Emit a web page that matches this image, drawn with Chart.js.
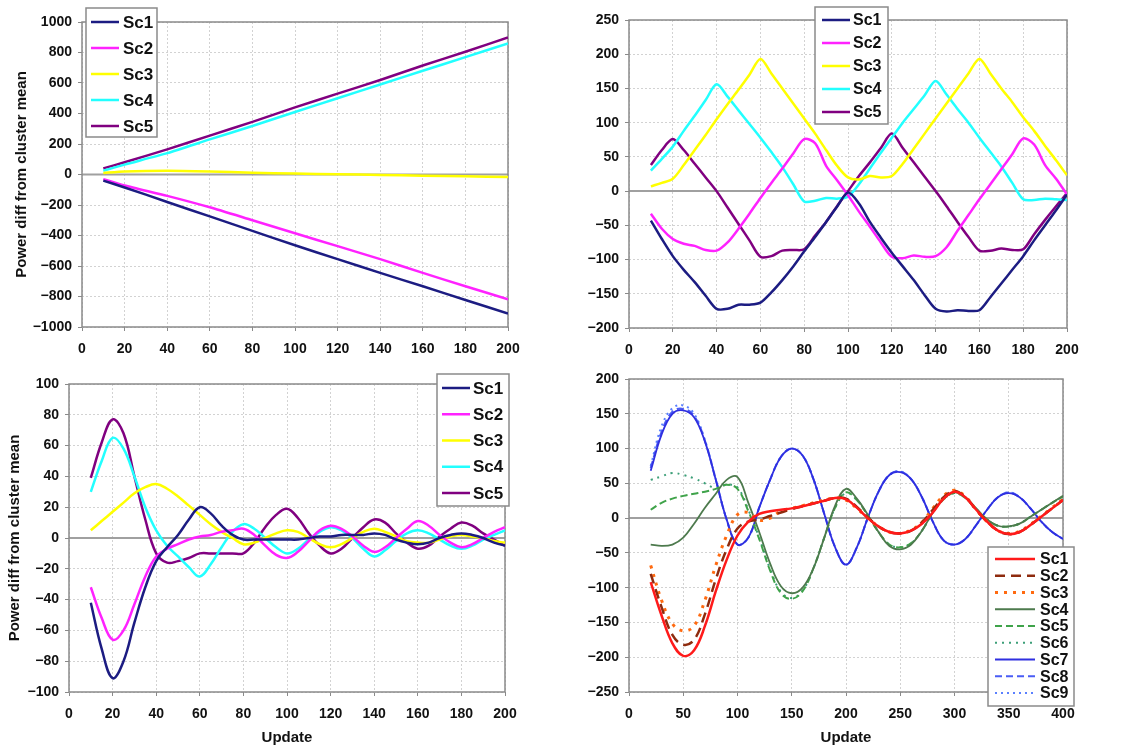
<!DOCTYPE html>
<html lang="en">
<head>
<meta charset="UTF-8">
<title>Power diff from cluster mean</title>
<script src="https://cdn.jsdelivr.net/npm/chart.js"></script>
<style>
  body { margin: 0; background: #fff; width: 1133px; height: 749px; position: relative; overflow: hidden; }
  canvas { position: absolute; }
</style>
</head>
<body>
<canvas id="chartA" width="530" height="370" style="left:0;top:0"></canvas>
<canvas id="chartB" width="530" height="370" style="left:560px;top:0"></canvas>
<canvas id="chartC" width="530" height="387" style="left:0;top:362px"></canvas>
<canvas id="chartD" width="530" height="387" style="left:560px;top:362px"></canvas>
<script>
// ---- panel A (top left) ----
const xA = [10, 20, 40, 60, 80, 100, 120, 140, 160, 180, 200];
const a1 = [-40, -85, -180, -275, -370, -464, -555, -645, -733, -823, -912];
const a2 = [-30, -72, -140, -215, -300, -385, -470, -555, -645, -733, -818];
const a3 = [10, 20, 25, 20, 12, 6, 2, -3, -8, -12, -16];
const a4 = [25, 65, 140, 230, 318, 410, 500, 590, 680, 770, 860];
const a5 = [40, 80, 165, 255, 345, 440, 530, 620, 715, 805, 898];

// ---- panel B (top right) ----
const xB = [10, 15, 20, 25, 30, 35, 40, 45, 50, 55, 60, 65, 70, 75, 80, 85, 90, 95, 100,
  105, 110, 115, 120, 125, 130, 135, 140, 145, 150, 155, 160, 165, 170, 175, 180, 185, 190, 195, 200];
const b1 = [-43, -70, -95, -115, -133, -153, -172, -172, -166, -166, -163, -148, -130, -110, -88, -67, -45, -23, -2,
  -18, -45, -68, -90, -110, -130, -152, -172, -176, -174, -175, -174, -155, -135, -115, -95, -72, -50, -28, -5];
const b2 = [-33, -55, -70, -77, -80, -86, -87, -75, -55, -33, -10, 12, 33, 55, 76, 70, 37, 16, -6,
  -30, -52, -75, -96, -98, -94, -96, -95, -82, -58, -35, -12, 10, 32, 54, 77, 68, 38, 18, -5];
const b3 = [7, 12, 18, 38, 60, 82, 105, 127, 148, 170, 193, 172, 150, 128, 106, 84, 60, 37, 20,
  17, 22, 20, 22, 40, 62, 84, 106, 128, 150, 172, 193, 172, 150, 130, 108, 88, 66, 45, 23];
const b4 = [30, 47, 65, 88, 110, 133, 156, 138, 118, 98, 78, 57, 35, 10, -15, -14, -10, -11, -8,
  10, 33, 56, 78, 100, 120, 140, 161, 141, 120, 100, 78, 57, 36, 12, -12, -13, -11, -12, -13];
const b5 = [38, 60, 76, 60, 40, 20, 0, -24, -48, -72, -96, -95, -87, -86, -85, -65, -45, -22, 0,
  22, 42, 63, 84, 63, 42, 21, 0, -22, -45, -67, -87, -87, -84, -86, -85, -63, -42, -22, -3];

// ---- panel C (bottom left) ----
const xC = xB;
const c1 = [-42, -72, -91, -80, -55, -32, -15, -6, 2, 12, 20, 16, 8, 2, -1, -1, -1, -1, -1,
  -1, 0, 1, 1, 2, 2, 2, 3, 2, -1, -3, -4, -3, 0, 2, 3, 2, 0, -3, -5];
const c2 = [-32, -52, -66, -60, -43, -25, -12, -7, -4, -1, 1, 2, 4, 5, 6, 2, -5, -11, -13,
  -9, -2, 5, 8, 6, 1, -5, -9, -6, 0, 6, 11, 8, 2, -3, -6, -4, 0, 4, 7];
const c3 = [5, 11, 17, 23, 29, 33, 35, 32, 27, 21, 15, 9, 4, 0, -4, -3, 0, 3, 5,
  4, 0, -4, -6, -4, 0, 4, 6, 4, 1, -2, -3, -3, -1, 1, 2, 1, 0, -2, -3];
const c4 = [30, 50, 65, 58, 40, 20, 5, -5, -12, -19, -25, -17, -6, 4, 9, 6, 0, -6, -10,
  -7, -1, 4, 7, 5, 0, -7, -12, -8, -2, 3, 5, 3, -1, -5, -7, -5, -1, 2, 5];
const c5 = [39, 62, 77, 68, 40, 12, -10, -16, -15, -13, -10, -10, -10, -10, -10, -3, 7, 15, 19,
  13, 3, -5, -10, -7, 0, 7, 12, 10, 3, -3, -7, -5, 1, 6, 10, 8, 3, -1, -5];

// ---- panel D (bottom right) ----
const xD = [20, 30, 40, 50, 60, 70, 80, 90, 100, 110, 120, 130, 140, 150, 160, 170, 180, 190, 200,
  210, 220, 230, 240, 250, 260, 270, 280, 290, 300, 310, 320, 330, 340, 350, 360, 370, 380, 390, 400];
const d1 = [-92, -140, -180, -198, -190, -155, -105, -60, -25, -5, 6, 10, 12, 14, 17, 21, 25, 29, 27,
  15, 0, -12, -20, -22, -18, -8, 8, 28, 38, 30, 12, -5, -18, -23, -20, -10, 2, 14, 26];
const d2 = [-80, -128, -168, -182, -175, -138, -88, -45, -15, -5, -2, 3, 8, 13, 17, 21, 25, 29, 28,
  16, 1, -12, -20, -22, -18, -6, 12, 30, 39, 30, 12, -5, -18, -23, -20, -10, 2, 14, 26];
const d3 = [-68, -118, -152, -162, -155, -118, -68, -25, 5, 8, -3, 0, 10, 14, 18, 22, 26, 29, 26,
  14, 0, -12, -20, -22, -17, -6, 14, 32, 40, 31, 12, -5, -18, -22, -19, -9, 3, 15, 27];
const d4 = [-38, -40, -38, -28, -8, 15, 35, 55, 59, 22, -20, -65, -98, -108, -100, -72, -28, 18, 42,
  28, 5, -20, -40, -45, -38, -18, 8, 28, 37, 30, 14, -2, -11, -12, -8, 2, 12, 22, 32];
const d5 = [12, 22, 28, 32, 35, 38, 42, 48, 42, 10, -30, -75, -108, -116, -105, -72, -28, 15, 37,
  26, 4, -20, -38, -42, -36, -18, 8, 27, 36, 29, 13, -2, -11, -12, -8, 2, 12, 22, 31];
const d6 = [55, 60, 65, 62, 57, 50, 43, 48, 44, 12, -28, -73, -106, -115, -104, -72, -28, 15, 36,
  26, 4, -20, -38, -42, -36, -18, 8, 27, 36, 29, 13, -2, -11, -12, -8, 2, 12, 22, 31];
const d7 = [68, 120, 150, 155, 145, 110, 55, -2, -38, -28, 15, 55, 88, 100, 90, 56, 6, -42, -67,
  -42, 0, 38, 62, 66, 56, 30, -5, -32, -38, -30, -10, 12, 30, 36, 30, 14, -5, -20, -30];
const d8 = [72, 124, 153, 157, 147, 111, 55, -2, -38, -28, 15, 55, 88, 100, 90, 56, 6, -42, -67,
  -42, 0, 38, 62, 67, 56, 30, -5, -32, -38, -30, -10, 12, 30, 37, 30, 14, -5, -20, -30];
const d9 = [75, 132, 158, 162, 150, 112, 56, -2, -38, -28, 15, 55, 88, 100, 90, 56, 6, -42, -67,
  -42, 0, 38, 62, 67, 56, 30, -5, -32, -38, -30, -10, 12, 30, 37, 30, 14, -5, -20, -30];

const FONT = '"Liberation Sans", Arial, sans-serif';
Chart.defaults.font.family = FONT;
Chart.defaults.color = '#111';

function pts(xs, ys) {
  return xs.map((x, i) => ({ x: x, y: ys[i] }));
}

// plot frame + zero line, under the data
const frame = {
  id: 'frame',
  beforeDatasetsDraw(chart) {
    const { ctx, chartArea: a } = chart;
    const y0 = chart.scales.y.getPixelForValue(0);
    ctx.save();
    ctx.strokeStyle = '#a0a0a0';
    ctx.lineWidth = 2;
    ctx.beginPath();
    ctx.moveTo(a.left, y0);
    ctx.lineTo(a.right, y0);
    ctx.stroke();
    ctx.strokeStyle = '#8a8a8a';
    ctx.lineWidth = 1.5;
    ctx.strokeRect(a.left, a.top, a.right - a.left, a.bottom - a.top);
    ctx.restore();
  }
};

// boxed legend at a fixed spot
const boxLegend = {
  id: 'boxLegend',
  afterDraw(chart, args, o) {
    const ctx = chart.ctx;
    ctx.save();
    ctx.fillStyle = '#fff';
    ctx.fillRect(o.x, o.y, o.w, o.h);
    ctx.strokeStyle = '#8a8a8a';
    ctx.lineWidth = 1.5;
    ctx.strokeRect(o.x, o.y, o.w, o.h);
    ctx.font = 'bold ' + o.font + 'px ' + FONT;
    ctx.textBaseline = 'middle';
    chart.data.datasets.forEach((ds, i) => {
      const y = o.y + o.top + i * o.row;
      ctx.strokeStyle = ds.borderColor;
      ctx.lineWidth = ds.borderWidth;
      ctx.setLineDash(ds.borderDash || []);
      ctx.beginPath();
      ctx.moveTo(o.x + o.lineX, y);
      ctx.lineTo(o.x + o.lineX + o.lineLen, y);
      ctx.stroke();
      ctx.setLineDash([]);
      ctx.fillStyle = '#111';
      ctx.fillText(ds.label, o.x + o.textX, y + 1);
    });
    ctx.restore();
  }
};

function minus(v) {
  return String(v).replace('-', '\u2212');
}

function makeChart(id, xs, series, p) {
  new Chart(document.getElementById(id), {
    type: 'line',
    data: {
      datasets: series.map(s => ({
        label: s.label,
        data: pts(xs, s.data),
        borderColor: s.color,
        borderWidth: s.width || 2.5,
        borderDash: s.dash || [],
        pointRadius: 0,
        tension: s.tension || 0.4,
        fill: false
      }))
    },
    plugins: [frame, boxLegend],
    options: {
      responsive: false,
      animation: false,
      layout: { padding: { top: p.top, right: p.right, left: 0, bottom: 0 } },
      plugins: {
        legend: { display: false },
        tooltip: { enabled: false },
        boxLegend: p.legend
      },
      scales: {
        x: {
          type: 'linear',
          min: p.xMin, max: p.xMax,
          afterFit: s => { s.height = p.xH; },
          grid: { color: '#d2d2d2', tickColor: '#8a8a8a', tickLength: 4 },
          border: { display: false, dash: [2, 2] },
          ticks: { stepSize: p.xStep, autoSkip: false, maxRotation: 0, padding: 10,
                   font: { size: 14, weight: 'bold' }, color: '#111' },
          title: { display: p.xTitle, text: 'Update', font: { size: 15, weight: 'bold' },
                   padding: { top: 0, bottom: 2 }, color: '#111' }
        },
        y: {
          min: p.yMin, max: p.yMax,
          afterFit: s => { s.width = p.yW; },
          grid: { color: '#d2d2d2', tickColor: '#8a8a8a', tickLength: 4 },
          border: { display: false, dash: [2, 2] },
          ticks: { stepSize: p.yStep, padding: 6, callback: minus,
                   font: { size: 14, weight: 'bold' }, color: '#111' },
          title: { display: p.yTitle, text: 'Power diff from cluster mean',
                   font: { size: 15, weight: 'bold' }, padding: { top: p.yTitlePad, bottom: 0 }, color: '#111' }
        }
      }
    }
  });
}

const five = (s1, s2, s3, s4, s5, t) => [
  { label: 'Sc1', data: s1, color: '#1c1c82', tension: t },
  { label: 'Sc2', data: s2, color: '#ff22ff', tension: t },
  { label: 'Sc3', data: s3, color: '#ffff00', tension: t },
  { label: 'Sc4', data: s4, color: '#22ffff', tension: t },
  { label: 'Sc5', data: s5, color: '#800080', tension: t }
];

makeChart('chartA', xA, five(a1, a2, a3, a4, a5, 0.2), {
  top: 22, right: 22, xH: 43, yW: 82, xMin: 0, xMax: 200, xStep: 20,
  yMin: -1000, yMax: 1000, yStep: 200, xTitle: false, yTitle: true, yTitlePad: 13,
  legend: { x: 86, y: 8, w: 71, h: 129, top: 14, row: 26, lineX: 5, lineLen: 28, textX: 37, font: 17 }
});

makeChart('chartB', xB, five(b1, b2, b3, b4, b5, 0.3), {
  top: 20, right: 23, xH: 42, yW: 69, xMin: 0, xMax: 200, xStep: 20,
  yMin: -200, yMax: 250, yStep: 50, xTitle: false, yTitle: false, yTitlePad: 0,
  legend: { x: 255, y: 7, w: 73, h: 117, top: 13, row: 23, lineX: 7, lineLen: 28, textX: 38, font: 16 }
});

makeChart('chartC', xC, five(c1, c2, c3, c4, c5, 0.4), {
  top: 22, right: 25, xH: 57, yW: 69, xMin: 0, xMax: 200, xStep: 20,
  yMin: -100, yMax: 100, yStep: 20, xTitle: true, yTitle: true, yTitlePad: 6,
  legend: { x: 437, y: 12, w: 72, h: 132, top: 14, row: 26.25, lineX: 5, lineLen: 28, textX: 36, font: 17 }
});

makeChart('chartD', xD, [
  { label: 'Sc1', data: d1, color: '#ff1a1a', width: 2.5 },
  { label: 'Sc2', data: d2, color: '#8e2b0e', width: 2.5, dash: [10, 6] },
  { label: 'Sc3', data: d3, color: '#ff6a10', width: 3, dash: [3, 6] },
  { label: 'Sc4', data: d4, color: '#4d7a4d', width: 1.8 },
  { label: 'Sc5', data: d5, color: '#3fa34a', width: 2, dash: [7, 4] },
  { label: 'Sc6', data: d6, color: '#3c9f78', width: 2, dash: [2, 5] },
  { label: 'Sc7', data: d7, color: '#2f2fe0', width: 1.8 },
  { label: 'Sc8', data: d8, color: '#4a5cf5', width: 2, dash: [7, 4] },
  { label: 'Sc9', data: d9, color: '#5a80ff', width: 2, dash: [2, 4] }
], {
  top: 17, right: 27, xH: 57, yW: 69, xMin: 0, xMax: 400, xStep: 50,
  yMin: -250, yMax: 200, yStep: 50, xTitle: true, yTitle: false, yTitlePad: 0,
  legend: { x: 428, y: 185, w: 86, h: 159, top: 12, row: 16.75, lineX: 7, lineLen: 40, textX: 52, font: 16 }
});
</script>
</body>
</html>
